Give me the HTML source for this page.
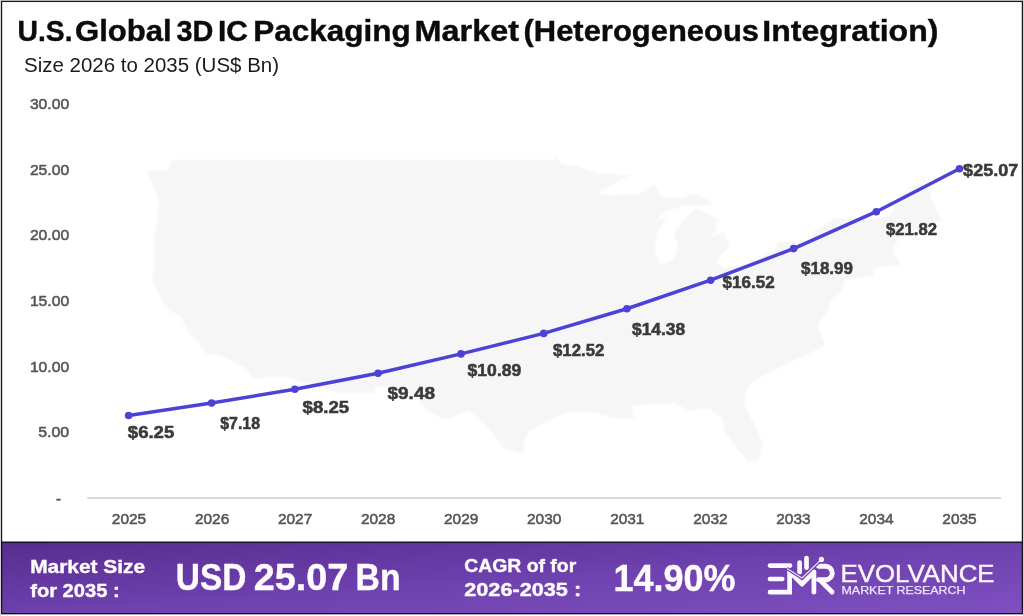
<!DOCTYPE html>
<html><head><meta charset="utf-8">
<style>
html,body{margin:0;padding:0;background:#fff;}
body{width:1024px;height:616px;position:relative;overflow:hidden;font-family:"Liberation Sans",sans-serif;}
svg{position:absolute;left:0;top:0;display:block;will-change:transform;}
text{font-family:"Liberation Sans",sans-serif;}
</style></head>
<body>
<svg width="1024" height="616" viewBox="0 0 1024 616">
<defs>
<linearGradient id="bg" x1="0" y1="0" x2="1" y2="1" gradientUnits="objectBoundingBox">
<stop offset="0" stop-color="#582c8e"/><stop offset="0.5" stop-color="#6d41ae"/><stop offset="1" stop-color="#8050c0"/>
</linearGradient>
<filter id="blur" x="-5%" y="-5%" width="110%" height="110%"><feGaussianBlur stdDeviation="1.2"/></filter>
</defs>
<rect x="0" y="0" width="1024" height="616" fill="#fff"/>
<path id="map" fill="#f6f6f6" filter="url(#blur)" d="M147.7 169.4 L149.1 176.5 L155.6 191.2 L158.3 200.6 L157.9 218.4 L153.5 240.7 L154.6 259.6 L152.1 280.2 L161.1 298.9 L171.4 311.7 L178.3 314.2 L185.2 324.8 L186.5 329.2 L194.8 340.3 L203.7 347.6 L204.4 354.3 L216.8 355.5 L233.3 360.9 L237.4 364.5 L245.7 368.1 L252.3 378.2 L285.6 376.4 L336.5 392.5 L375.0 392.5 L375.0 387.2 L398.4 387.2 L419.1 401.0 L426.6 410.2 L443.8 419.3 L450.7 418.2 L468.6 410.2 L483.7 422.7 L494.8 436.3 L504.4 448.6 L523.6 454.1 L523.6 444.1 L527.8 432.9 L544.3 422.7 L559.4 415.9 L573.2 411.3 L595.2 412.5 L613.1 418.2 L635.1 419.3 L631.0 405.6 L653.0 404.4 L673.6 403.3 L690.1 411.3 L708.0 407.9 L721.8 417.0 L724.5 430.7 L735.6 447.5 L747.9 461.8 L757.6 460.7 L763.1 444.1 L754.8 425.0 L743.8 404.4 L746.6 390.5 L750.7 383.5 L764.4 375.2 L790.6 362.1 L811.2 352.5 L825.0 345.8 L819.5 330.4 L818.1 324.2 L827.7 311.7 L830.5 301.5 L841.5 292.5 L845.6 279.5 L873.2 275.6 L873.2 269.0 L886.9 266.3 L900.7 265.0 L897.9 258.3 L892.4 251.6 L897.9 239.3 L921.3 228.2 L942.0 221.3 L939.2 215.6 L930.9 198.5 L930.9 188.3 L924.1 183.9 L911.7 185.4 L900.7 198.5 L889.7 214.2 L880.0 218.4 L834.6 218.4 L814.0 231.0 L815.4 239.3 L797.5 242.0 L776.8 242.0 L776.8 247.5 L760.3 258.3 L739.7 266.3 L725.9 267.6 L714.9 263.6 L720.4 255.6 L730.0 246.1 L723.2 231.7 L709.4 237.9 L714.9 232.4 L717.7 219.8 L708.0 214.2 L695.6 207.1 L686.0 218.4 L673.6 232.4 L677.8 246.1 L673.6 259.6 L661.2 264.3 L657.1 259.6 L654.4 246.1 L657.1 232.4 L668.1 214.2 L653.0 225.4 L658.5 218.4 L666.8 209.9 L687.4 205.7 L698.4 205.7 L713.5 204.2 L702.5 197.0 L694.3 194.1 L680.5 198.5 L661.2 197.0 L654.4 183.2 L639.2 194.1 L611.7 195.6 L596.6 193.0 L631.0 175.0 L598.0 173.5 L578.7 166.0 L562.2 164.5 L554.6 154.2 L554.6 160.0 L171.4 160.0 L168.6 170.6 L157.6 170.6Z"/>
<line x1="87.3" y1="498" x2="1001" y2="498" stroke="#d8d8d8" stroke-width="1.8"/>
<g font-size="15.2" fill="#555555" stroke="#555555" stroke-width="0.55" text-anchor="end">
<text x="69.2" y="109.0" textLength="39.3" lengthAdjust="spacingAndGlyphs">30.00</text>
<text x="69.2" y="174.6" textLength="39.3" lengthAdjust="spacingAndGlyphs">25.00</text>
<text x="69.2" y="240.3" textLength="39.3" lengthAdjust="spacingAndGlyphs">20.00</text>
<text x="69.2" y="305.9" textLength="39.3" lengthAdjust="spacingAndGlyphs">15.00</text>
<text x="69.2" y="371.5" textLength="39.3" lengthAdjust="spacingAndGlyphs">10.00</text>
<text x="69.2" y="437.1" textLength="31" lengthAdjust="spacingAndGlyphs">5.00</text>
<text x="61" y="503.5">-</text>
</g>
<g font-size="15.2" fill="#555555" stroke="#555555" stroke-width="0.55" text-anchor="middle">
<text x="129.0" y="523.6" textLength="34.3" lengthAdjust="spacingAndGlyphs">2025</text>
<text x="212.1" y="523.6" textLength="34.3" lengthAdjust="spacingAndGlyphs">2026</text>
<text x="295.1" y="523.6" textLength="34.3" lengthAdjust="spacingAndGlyphs">2027</text>
<text x="378.1" y="523.6" textLength="34.3" lengthAdjust="spacingAndGlyphs">2028</text>
<text x="461.2" y="523.6" textLength="34.3" lengthAdjust="spacingAndGlyphs">2029</text>
<text x="544.2" y="523.6" textLength="34.3" lengthAdjust="spacingAndGlyphs">2030</text>
<text x="627.3" y="523.6" textLength="34.3" lengthAdjust="spacingAndGlyphs">2031</text>
<text x="710.4" y="523.6" textLength="34.3" lengthAdjust="spacingAndGlyphs">2032</text>
<text x="793.4" y="523.6" textLength="34.3" lengthAdjust="spacingAndGlyphs">2033</text>
<text x="876.4" y="523.6" textLength="34.3" lengthAdjust="spacingAndGlyphs">2034</text>
<text x="959.5" y="523.6" textLength="34.3" lengthAdjust="spacingAndGlyphs">2035</text>
</g>
<polyline fill="none" stroke="#4d42d6" stroke-width="3.5" stroke-linejoin="round" stroke-linecap="round" points="128.6,415.5 211.6,403.1 294.8,389.2 378,373.3 461,353.9 543.7,333.4 626.9,308.75 710.6,280.2 793.6,248.6 876.3,211.7 959.4,168.7"/>
<g fill="#4d42d6">
<circle cx="128.6" cy="415.5" r="3.8"/>
<circle cx="211.6" cy="403.1" r="3.8"/>
<circle cx="294.8" cy="389.2" r="3.8"/>
<circle cx="378" cy="373.3" r="3.8"/>
<circle cx="461" cy="353.9" r="3.8"/>
<circle cx="543.7" cy="333.4" r="3.8"/>
<circle cx="626.9" cy="308.75" r="3.8"/>
<circle cx="710.6" cy="280.2" r="3.8"/>
<circle cx="793.6" cy="248.6" r="3.8"/>
<circle cx="876.3" cy="211.7" r="3.8"/>
<circle cx="959.4" cy="168.7" r="3.8"/>
</g>
<g font-size="16.8" font-weight="bold" fill="#3a3a3a" stroke="#3a3a3a" stroke-width="0.55">
<text x="127.8" y="438.0" textLength="46.5" lengthAdjust="spacingAndGlyphs">$6.25</text>
<text x="220.2" y="429.2" textLength="39.8" lengthAdjust="spacingAndGlyphs">$7.18</text>
<text x="302.6" y="413.2" textLength="46.6" lengthAdjust="spacingAndGlyphs">$8.25</text>
<text x="387.5" y="398.5" textLength="47.5" lengthAdjust="spacingAndGlyphs">$9.48</text>
<text x="467.6" y="375.6" textLength="53.7" lengthAdjust="spacingAndGlyphs">$10.89</text>
<text x="553.0" y="355.5" textLength="51.3" lengthAdjust="spacingAndGlyphs">$12.52</text>
<text x="632.0" y="334.7" textLength="53.2" lengthAdjust="spacingAndGlyphs">$14.38</text>
<text x="722.5" y="287.9" textLength="52.2" lengthAdjust="spacingAndGlyphs">$16.52</text>
<text x="801.0" y="274.3" textLength="52.0" lengthAdjust="spacingAndGlyphs">$18.99</text>
<text x="886.0" y="235.3" textLength="51.1" lengthAdjust="spacingAndGlyphs">$21.82</text>
<text x="963.1" y="176.2" textLength="55.2" lengthAdjust="spacingAndGlyphs">$25.07</text>
</g>
<g font-size="29" font-weight="bold" fill="#0b0b0b" stroke="#0b0b0b" stroke-width="0.4">
<text x="17.5" y="41" textLength="55.0" lengthAdjust="spacingAndGlyphs">U.S.</text>
<text x="75.0" y="41" textLength="96.6" lengthAdjust="spacingAndGlyphs">Global</text>
<text x="176.5" y="41" textLength="36.9" lengthAdjust="spacingAndGlyphs">3D</text>
<text x="217.9" y="41" textLength="29.9" lengthAdjust="spacingAndGlyphs">IC</text>
<text x="253.3" y="41" textLength="157.5" lengthAdjust="spacingAndGlyphs">Packaging</text>
<text x="414.5" y="41" textLength="104.5" lengthAdjust="spacingAndGlyphs">Market</text>
<text x="523.5" y="41" textLength="235.5" lengthAdjust="spacingAndGlyphs">(Heterogeneous</text>
<text x="762.3" y="41" textLength="176.1" lengthAdjust="spacingAndGlyphs">Integration)</text>
</g>
<text x="24" y="72.3" font-size="19.6" fill="#1b1b1b" textLength="255" lengthAdjust="spacingAndGlyphs">Size 2026 to 2035 (US$ Bn)</text>
<rect x="1.5" y="542" width="1021" height="72" fill="url(#bg)"/>
<line x1="1.5" y1="542.2" x2="1022.5" y2="542.2" stroke="#000" stroke-opacity="0.9" stroke-width="1.3"/>
<rect x="1.55" y="1.4" width="1020.85" height="612.3" fill="none" stroke="#000" stroke-opacity="0.9" stroke-width="1.3"/>
<line x1="0" y1="0.5" x2="1024" y2="0.5" stroke="#b4b4b4" stroke-width="1"/>
<line x1="0.5" y1="0" x2="0.5" y2="616" stroke="#d4d4d4" stroke-width="1"/>
<line x1="1023.5" y1="0" x2="1023.5" y2="616" stroke="#d0d0d0" stroke-width="1"/>
<g fill="#fffbff" stroke="#fffbff" stroke-width="0.4" font-weight="bold">
<text x="30.2" y="573" font-size="19" textLength="115" lengthAdjust="spacingAndGlyphs">Market Size</text>
<text x="30.2" y="596.5" font-size="19" textLength="89.5" lengthAdjust="spacingAndGlyphs">for 2035 :</text>
<text x="175.8" y="589.6" font-size="36" textLength="70.5" lengthAdjust="spacingAndGlyphs">USD</text>
<text x="253.8" y="589.6" font-size="36" textLength="94.5" lengthAdjust="spacingAndGlyphs">25.07</text>
<text x="355.6" y="589.6" font-size="36" textLength="45" lengthAdjust="spacingAndGlyphs">Bn</text>
<text x="464.2" y="572.3" font-size="19" textLength="112" lengthAdjust="spacingAndGlyphs">CAGR of for</text>
<text x="464.2" y="595.9" font-size="19" textLength="117" lengthAdjust="spacingAndGlyphs">2026-2035 :</text>
<text x="613.4" y="590.9" font-size="36" textLength="122" lengthAdjust="spacingAndGlyphs">14.90%</text>
</g>
<text x="840.5" y="582.4" font-size="24" fill="#fdf8ff" stroke="#fdf8ff" stroke-width="0.4" textLength="154" lengthAdjust="spacingAndGlyphs">EVOLVANCE</text>
<text x="841.5" y="594.3" font-size="11.3" fill="#efe4ff" stroke="#efe4ff" stroke-width="0.25" textLength="124" lengthAdjust="spacingAndGlyphs">MARKET RESEARCH</text>
<g stroke="#fdfaff" stroke-linecap="round" stroke-linejoin="round" fill="none" stroke-width="4.7">
<line x1="770" y1="565.6" x2="790" y2="565.6"/>
<line x1="770" y1="579" x2="782.2" y2="579"/>
<path d="M770 592.2 H789.6 V571.5" stroke-linejoin="miter"/>
<polyline points="789.6,571.5 802,584.2 813.9,572"/>
<line x1="813.9" y1="572" x2="813.9" y2="592.2"/>
<line x1="799.6" y1="562.7" x2="799.6" y2="572.2"/>
<line x1="806.5" y1="558" x2="806.5" y2="567.7"/>
<path d="M818.5 566.2 H825.5 A6.8 6.8 0 0 1 825.5 579.8 H818.5" stroke-width="4.9"/>
<line x1="821.5" y1="581.5" x2="832" y2="592" stroke-width="4.9"/>
</g>
<polyline points="787,568.5 802,578 821.4,559.4" fill="none" stroke="#7044b0" stroke-width="3.4" stroke-linejoin="round"/>
<polyline points="787,568.5 802,578 821.4,559.4" fill="none" stroke="#e6dafc" stroke-width="1.3" stroke-linejoin="round"/>
<circle cx="821.4" cy="559.4" r="2.6" fill="#fdfaff"/>
</svg>
</body></html>
